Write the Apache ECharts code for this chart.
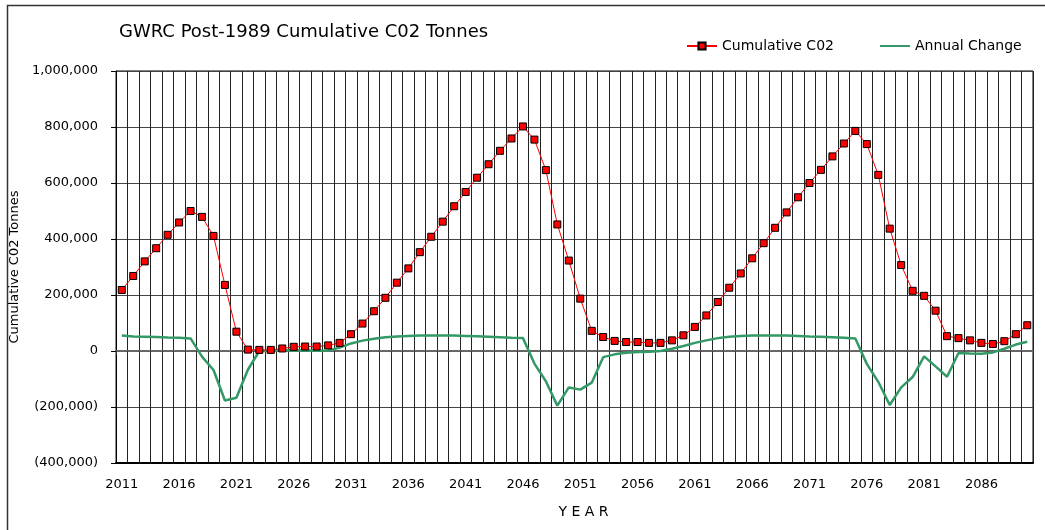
<!DOCTYPE html>
<html>
<head>
<meta charset="utf-8">
<script src="https://cdn.jsdelivr.net/npm/echarts@6/dist/echarts.min.js"></script>
<style>
html,body{margin:0;padding:0;background:#fff;}
#chart{width:1045px;height:530px;}
</style>
</head>
<body>
<div id="chart"></div>
<script>
var years = ['2011','2012','2013','2014','2015','2016','2017','2018','2019','2020',
'2021','2022','2023','2024','2025','2026','2027','2028','2029','2030',
'2031','2032','2033','2034','2035','2036','2037','2038','2039','2040',
'2041','2042','2043','2044','2045','2046','2047','2048','2049','2050',
'2051','2052','2053','2054','2055','2056','2057','2058','2059','2060',
'2061','2062','2063','2064','2065','2066','2067','2068','2069','2070',
'2071','2072','2073','2074','2075','2076','2077','2078','2079','2080',
'2081','2082','2083','2084','2085','2086','2087','2088','2089','2090'];

var cumulativeCO2 = [218000,268000,320000,367000,415000,459000,500000,479000,411000,236000,
69000,5000,4000,4000,9000,15000,16000,16000,20000,29000,
60000,98000,142000,190000,244000,295000,353000,408000,462000,517000,
568000,619000,667000,715000,759000,802000,755000,646000,452000,323000,
187000,72000,50000,36000,32000,32000,29000,29000,38000,56000,
86000,127000,175000,226000,277000,331000,385000,440000,495000,549000,
600000,647000,695000,741000,786000,739000,629000,437000,307000,215000,
197000,144000,53000,46000,38000,29000,25000,35000,60000,92000];

var annualChange = [55000,52000,51000,50000,48000,47000,45000,-20000,-68000,-177000,
-167000,-67000,0,0,2000,3000,2000,1000,2000,12000,
27000,37000,44000,49000,52000,54000,55000,55000,55000,55000,
54000,53000,51000,49000,47000,46000,-45000,-108000,-195000,-130000,
-138000,-113000,-22000,-12000,-6000,-4000,-3000,0,8000,18000,
29000,38000,46000,51000,54000,55000,55000,55000,55000,54000,
52000,51000,49000,47000,45000,-46000,-110000,-193000,-130000,-93000,
-19000,-55000,-92000,-7000,-9000,-10000,-5000,8000,23000,33000];

var yTicks = {min:-400000, max:1000000, step:200000};

var FONT = 'DejaVu Sans, Liberation Sans, Arial, sans-serif';
function fmt(v){
  var s = Math.abs(v).toLocaleString('en-US');
  return v < 0 ? '(' + s + ')' : s;
}

var chart = echarts.init(document.getElementById('chart'), null, {renderer:'canvas'});
chart.setOption({
  backgroundColor:'#fff',
  animation:false,
  textStyle:{fontFamily:FONT},
  title:{
    text:'GWRC Post-1989 Cumulative C02 Tonnes',
    left:119, top:23, padding:0,
    textStyle:{fontFamily:FONT, fontSize:18, fontWeight:'normal', color:'#000'}
  },
  legend:{
    data:[{name:'Cumulative C02'},{name:'Annual Change', itemStyle:{opacity:0}}],
    left:686, top:39, padding:0,
    itemWidth:30, itemHeight:9, itemGap:45,
    textStyle:{fontFamily:FONT, fontSize:14, color:'#000'}
  },
  graphic:[{
    type:'rect', silent:true, z:100,
    shape:{x:7.5, y:5.5, width:1100, height:600},
    style:{fill:'none', stroke:'#333', lineWidth:1.5}
  }],
  grid:{left:115, right:12, top:71, bottom:67, show:true, borderColor:'#000', borderWidth:1, backgroundColor:'transparent'},
  xAxis:[{
    type:'category', data:years, boundaryGap:true, position:'bottom',
    axisLine:{onZero:false, lineStyle:{color:'#000', width:2}},
    axisTick:{show:false},
    axisLabel:{interval:4, margin:15, fontFamily:FONT, fontSize:13, color:'#000'},
    splitLine:{show:true, interval:0, lineStyle:{color:'#222', width:1}},
    name:'Y E A R', nameLocation:'middle', nameGap:42,
    nameTextStyle:{fontFamily:FONT, fontSize:14, color:'#000', padding:[0,0,0,18]}
  },{
    type:'category', data:years, boundaryGap:true, position:'bottom',
    axisLine:{onZero:true, lineStyle:{color:'#666', width:2}},
    axisTick:{show:true, interval:0, length:4, lineStyle:{color:'#333'}},
    axisLabel:{show:false},
    splitLine:{show:false}
  }],
  yAxis:{
    type:'value', min:yTicks.min, max:yTicks.max, interval:yTicks.step,
    axisLine:{show:true, lineStyle:{color:'#000', width:1}},
    axisTick:{show:true, length:5, lineStyle:{color:'#000'}},
    axisLabel:{formatter:fmt, margin:18, fontFamily:FONT, fontSize:13, color:'#000'},
    splitLine:{show:true, lineStyle:{color:'#444', width:1}},
    name:'Cumulative C02 Tonnes', nameLocation:'middle', nameGap:76,
    nameTextStyle:{fontFamily:FONT, fontSize:13, color:'#000'}
  },
  series:[{
    name:'Cumulative C02', type:'line', data:cumulativeCO2, z:4,
    symbol:'rect', symbolSize:7, showAllSymbol:true,
    itemStyle:{color:'#ff0000', borderColor:'#000', borderWidth:1},
    lineStyle:{color:'#ff0000', width:1}
  },{
    name:'Annual Change', type:'line', data:annualChange, z:3,
    symbol:'none', showSymbol:false,
    itemStyle:{color:'#339966'},
    lineStyle:{color:'#339966', width:2.5}
  }]
});
</script>
</body>
</html>
